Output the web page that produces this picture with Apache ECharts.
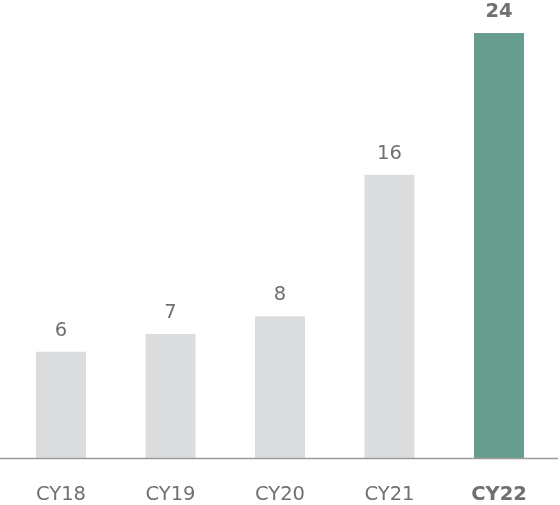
<!DOCTYPE html>
<html><head><meta charset="utf-8">
<script src="https://cdn.jsdelivr.net/npm/echarts@6/dist/echarts.min.js"></script>
<style>html,body{margin:0;padding:0;background:#fff}#c{width:560px;height:505px}</style>
</head><body><div id="c"></div>
<script>
const categories = ['CY18','CY19','CY20','CY21','CY22'];
const values = [6, 7, 8, 16, 24];
const highlightIndex = 4;

const chart = echarts.init(document.getElementById('c'));
const FONT = "'DejaVu Sans', sans-serif";
chart.setOption({
  animation: false,
  grid: {left: 6.25, right: 6.25, top: 33, bottom: 46},
  xAxis: {
    type: 'category', data: categories,
    axisLine: {show: false}, axisTick: {show: false},
    axisLabel: {
      interval: 0, hideOverlap: false,
      margin: 27, fontSize: 19.5, fontFamily: FONT, color: '#707070',
      formatter: (v, i) => i === highlightIndex ? '{b|' + v + '}' : v,
      rich: {b: {fontSize: 19.5, fontFamily: FONT, fontWeight: 'bold', color: '#707070'}}
    }
  },
  yAxis: {type: 'value', min: 0, max: 24, show: false, splitLine: {show: false}},
  series: [{
    type: 'bar', barWidth: 50,
    data: values.map((v, i) => ({
      value: v,
      itemStyle: {color: i === highlightIndex ? '#679d8e' : '#dbdcdd'},
      label: {fontWeight: i === highlightIndex ? 'bold' : 'normal'}
    })),
    label: {show: true, position: 'top', distance: 11, fontSize: 19.5, fontFamily: FONT, color: '#707070'}
  }],
  graphic: [{
    type: 'line', shape: {x1: 0, y1: 458.5, x2: 558, y2: 458.5},
    style: {stroke: '#9a9a9a', lineWidth: 1.5}, z: 10
  }]
});
</script></body></html>
